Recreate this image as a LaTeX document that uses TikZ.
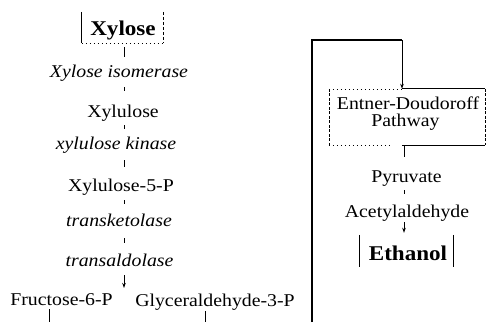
\documentclass[tikz,border=0pt]{standalone}
\usepackage{fontspec}
\setmainfont{Liberation Serif}[FakeStretch=1.1]
\usetikzlibrary{arrows.meta}
\begin{document}
\begin{tikzpicture}[x=1pt,y=-1pt,
  txt/.style={inner sep=0pt,anchor=base,text height=13pt,text depth=4pt,font=\fontsize{18}{20}\selectfont},
  itxt/.style={txt,font=\fontsize{18}{20}\selectfont\itshape},
  btxt/.style={inner sep=0pt,anchor=base,font=\fontsize{21}{24}\selectfont\bfseries},
  frame/.style={draw=none,rectangle,inner sep=0pt},
  conn/.style={line width=0.9pt,black},
  arr/.style={conn,-{Stealth[length=5pt,width=3.5pt]}}
]
\useasboundingbox (0,0) rectangle (487,322);
% left column
\coordinate (colL) at (124,0);
\node[frame,minimum width=81pt,minimum height=31pt] (xylbox) at (122.5,27.5) {};
\node[btxt] (xyl) at (123,35) {Xylose};
\draw[line width=0.9pt] (xylbox.north west) -- (xylbox.south west);
\draw[line width=0.6pt,dash pattern=on 3pt off 2pt] (xylbox.north east) -- (xylbox.south east);
\draw[line width=0.6pt,dash pattern=on 1pt off 3pt] (xylbox.south west) -- (xylbox.south east);

\node[itxt] (iso) at (119,77) {Xylose isomerase};
\node[txt] (xul) at (123,117) {Xylulose};
\node[itxt] (kin) at (116,149) {xylulose kinase};
\node[txt] (x5p) at (121,191) {Xylulose-5-P};
\node[itxt] (tk) at (119,226) {transketolase};
\node[itxt] (ta) at (119.5,266) {transaldolase};
\node[txt] (f6p) at (61.5,305) {Fructose-6-P};
\node[txt] (g3p) at (215,306) {Glyceraldehyde-3-P};
\coordinate (split) at (124,288);
\coordinate (fb) at (49,322);
\coordinate (gb) at (205,322);

\draw[conn,shorten <=4pt,shorten >=7pt] (colL |- xylbox.south) -- (colL |- iso.north);
\draw[conn,shorten <=6pt,shorten >=13pt] (colL |- iso.south) -- (colL |- xul.north);
\draw[conn,shorten <=4pt,shorten >=7pt] (colL |- xul.south) -- (colL |- kin.north);
\draw[conn,shorten <=7pt,shorten >=11pt] (colL |- kin.south) -- (colL |- x5p.north);
\draw[conn,shorten <=5pt,shorten >=9pt] (colL |- x5p.south) -- (colL |- tk.north);
\draw[conn,shorten <=8pt,shorten >=10pt] (colL |- tk.south) -- (colL |- ta.north);
\draw[arr,shorten <=5pt] (colL |- ta.south) -- (split);
\draw[conn,shorten <=0pt] (fb |- f6p.south) -- (fb);
\draw[conn,shorten <=1pt] (gb |- g3p.south) -- (gb);

% right column
\coordinate (rb) at (312,322);
\coordinate (corner) at (402,40);
\node[frame,minimum width=156pt,minimum height=56pt] (ed) at (407,117) {};
\node[txt] (ed1) at (408,109) {Entner-Doudoroff};
\node[txt] (ed2) at (405.5,126) {Pathway};
\draw[line width=0.6pt,dash pattern=on 3pt off 1.5pt] (ed.north west) -- (ed.south west);
\draw[line width=0.6pt,dash pattern=on 3pt off 1.5pt] (ed.north east) -- (ed.south east);
\draw[line width=0.6pt,dash pattern=on 1pt off 3pt] (ed.north west) -- (corner |- ed.north);
\draw[line width=0.9pt] (corner |- ed.north) -- (ed.north east);
\draw[line width=0.6pt,dash pattern=on 1pt off 3pt] (ed.south west) -- ([xshift=-10pt]corner |- ed.south);
\draw[line width=1pt] (corner |- ed.south) -- (ed.south east);

\node[txt] (pyr) at (406.5,182) {Pyruvate};
\node[txt] (acet) at (407,217) {Acetylaldehyde};
\node[frame,minimum width=93pt,minimum height=32pt] (ethbox) at (406.5,251) {};
\node[btxt] (eth) at (408,260) {Ethanol};
\draw[line width=0.8pt] (ethbox.north west) -- (ethbox.south west);
\draw[line width=0.8pt] (ethbox.north east) -- (ethbox.south east);

\draw[line width=1.1pt] (rb) |- (corner);
\draw[arr] (corner) -- (corner |- ed.north);
\coordinate (colR) at (404,0);
\draw[conn,shorten <=1pt,shorten >=12pt] (colR |- ed.south) -- (colR |- pyr.north);
\draw[conn,shorten <=4pt,shorten >=10pt] (colR |- pyr.south) -- (colR |- acet.north);
\draw[arr,shorten <=1pt,shorten >=2pt] (colR |- acet.south) -- (colR |- ethbox.north);
\end{tikzpicture}
\end{document}
